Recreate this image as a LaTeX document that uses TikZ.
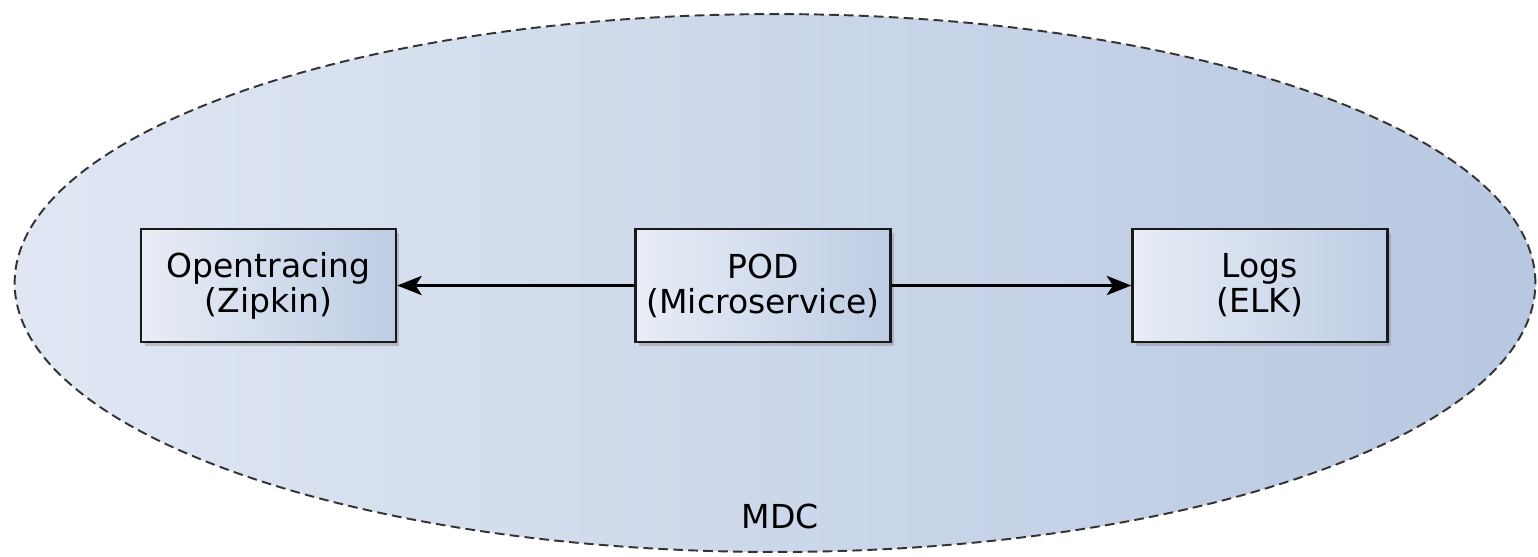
\documentclass[tikz,border=0pt]{standalone}
\usepackage{fontspec}
\setmainfont{DejaVu Sans}
\usepackage{tikz}
\usetikzlibrary{positioning, arrows.meta, shapes.geometric, shadows}
\usepackage{xcolor}
\definecolor{zoneL}{RGB}{224, 231, 243}
\definecolor{zoneR}{RGB}{184, 200, 225}
\definecolor{boxL}{RGB}{232, 237, 246}
\definecolor{boxR}{RGB}{190, 205, 228}

\tikzset{
  svcbox/.style={draw=black!90, line width=1.4pt, shading=axis, left color=boxL, right color=boxR,
    minimum width=5.1cm, minimum height=2.26cm, align=center, inner sep=2pt,
    drop shadow={shadow xshift=0.07cm, shadow yshift=-0.07cm, opacity=0.3, fill=black!60}},
  flow/.style={-{Stealth[length=14pt, width=11pt, inset=3.5pt]}, line width=1.2pt}
}

\begin{document}
\begin{tikzpicture}[x=0.02cm, y=-0.02cm, font=\fontsize{18.8}{20}\selectfont]
  \useasboundingbox (0,0) rectangle (1538,556);
  % MDC zone
  \node[ellipse, draw=black!80, dash pattern=on 5.5pt off 3pt, line width=1.1pt,
    shading=axis, left color=zoneL, right color=zoneR,
    minimum width=30.42cm, minimum height=10.76cm, inner sep=0pt] (mdc) at (775,283) {};
  \node (mdclabel) at (780,516) {MDC};

  % Services
  \node[svcbox] (pod) at (763,285.5) {POD\\(Microservice)};
  \node[svcbox] (trace) at (268.5,285.5) {Opentracing\\(Zipkin)};
  \node[svcbox] (logs) at (1260,285.5) {Logs\\(ELK)};

  \draw[flow] (pod) -- (trace);
  \draw[flow] (pod) -- (logs);
\end{tikzpicture}
\end{document}
